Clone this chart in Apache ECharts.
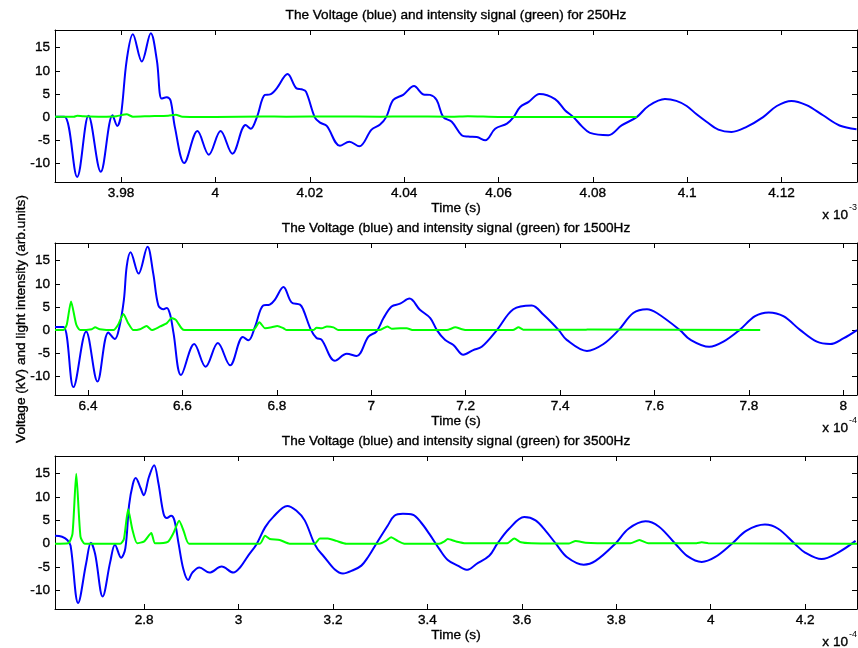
<!DOCTYPE html>
<html>
<head>
<meta charset="utf-8">
<script src="https://cdn.jsdelivr.net/npm/echarts@6/dist/echarts.min.js"></script>
<style>
  html, body { margin: 0; padding: 0; background: #fff; }
  #chart { width: 858px; height: 648px; }
</style>
</head>
<body>
<div id="chart"></div>
<script>
// ---- 250 Hz (time in units of 1e-3 s) ----
const time250V = [3.966, 3.968, 3.9707, 3.9731, 3.9757, 3.9782, 3.9792, 3.9800, 3.9812, 3.9825, 3.9844, 3.9863, 3.9876, 3.9886, 3.9897, 3.9905, 3.9914, 3.9934, 3.9962, 3.9986, 4.0011, 4.0036, 4.0064, 4.0075, 4.0088, 4.0105, 4.0116, 4.0130, 4.0153, 4.0172, 4.0183, 4.0192, 4.0211, 4.0222, 4.0236, 4.0264, 4.0284, 4.0305, 4.0331, 4.0349, 4.0362, 4.0377, 4.0398, 4.0421, 4.0441, 4.0455, 4.0469, 4.0483, 4.0501, 4.0522, 4.0536, 4.0554, 4.0572, 4.0593, 4.0618, 4.0632, 4.0646, 4.0664, 4.0687, 4.0720, 4.0741, 4.0759, 4.0777, 4.0794, 4.0833, 4.0861, 4.0893, 4.0918, 4.0953, 4.0977, 4.0999, 4.1020, 4.1041, 4.1066, 4.1094, 4.1126, 4.1161, 4.1190, 4.1221, 4.1253, 4.1288, 4.1323, 4.1359];
const volt250 = [0.1, 0.1, -12.9, 0.3, -11.8, 0.4, -1.9, 0.5, 12.3, 17.9, 12.0, 18.1, 12.2, 4.0, 4.3, 3.6, -2.1, -9.9, -3.0, -8.1, -3.0, -7.9, -1.7, -2.5, 0, 4.8, 4.9, 6.2, 9.3, 6.2, 6.0, 5.5, -0.1, -1.2, -1.9, -6.2, -5.3, -6.3, -2.7, -1.6, 0, 3.7, 4.8, 6.7, 4.9, 4.8, 3.7, 0, -1.0, -3.9, -4.2, -4.3, -5.0, -2.5, -1.4, 0, 2.2, 3.3, 5.0, 3.9, 1.5, 0, -2.0, -3.4, -3.9, -1.8, 0, 2.4, 3.9, 3.5, 2.4, 0.6, -1.0, -2.7, -3.2, -2.1, 0, 2.4, 3.5, 2.6, 0.4, -1.8, -2.6];
const time250L = [3.966, 3.970, 3.9707, 3.972, 3.976, 3.979, 3.9812, 3.9825, 3.986, 3.990, 3.9916, 3.993, 4.000, 4.010, 4.015, 4.025, 4.035, 4.040, 4.050, 4.0535, 4.060, 4.0893];
const light250 = [0.1, 0.1, 0.3, 0.2, 0.1, 0.2, 0.6, 0.1, 0.2, 0.3, 0.5, 0.1, 0.05, 0.15, 0.1, 0.15, 0.1, 0.15, 0.1, 0.2, 0.05, 0.05];

// ---- 1500 Hz (time in units of 1e-4 s) ----
const time1500V = [6.330, 6.348, 6.369, 6.396, 6.420, 6.443, 6.457, 6.466, 6.476, 6.482, 6.490, 6.507, 6.526, 6.538, 6.549, 6.560, 6.567, 6.574, 6.581, 6.597, 6.625, 6.649, 6.675, 6.701, 6.728, 6.740, 6.754, 6.771, 6.785, 6.796, 6.814, 6.831, 6.849, 6.856, 6.872, 6.884, 6.895, 6.923, 6.948, 6.969, 6.994, 7.011, 7.026, 7.043, 7.061, 7.081, 7.103, 7.125, 7.139, 7.156, 7.174, 7.195, 7.216, 7.234, 7.266, 7.301, 7.340, 7.365, 7.397, 7.414, 7.457, 7.492, 7.524, 7.555, 7.584, 7.605, 7.654, 7.675, 7.716, 7.746, 7.780, 7.813, 7.842, 7.873, 7.909, 7.944, 7.972, 8.000, 8.029];
const volt1500 = [0.65, 0.65, -12.3, -0.3, -11.1, -0.5, -1.9, 0.5, 6.6, 13.8, 16.8, 12.2, 18.0, 12.3, 5.3, 4.5, 4.8, 3.3, -0.6, -9.7, -3.0, -7.9, -2.8, -7.6, -1.5, -2.2, 0.8, 5.3, 5.5, 6.6, 9.3, 6.0, 5.5, 4.4, 0.1, -1.7, -2.1, -6.6, -5.1, -5.6, -1.4, -0.3, 2.6, 5.1, 5.7, 6.8, 4.4, 2.6, 0, -2.1, -3.2, -5.3, -4.3, -3.6, 0, 4.5, 5.3, 3.3, 0, -2.1, -4.5, -3.0, 0, 3.7, 4.5, 3.7, 0, -2.0, -3.6, -2.5, 0, 3.0, 3.8, 3.0, 0, -2.5, -3.0, -1.8, 0];
const time1500L = [6.330, 6.348, 6.355, 6.364, 6.375, 6.383, 6.408, 6.415, 6.425, 6.454, 6.464, 6.475, 6.485, 6.496, 6.510, 6.524, 6.535, 6.553, 6.567, 6.577, 6.586, 6.598, 6.605, 6.750, 6.763, 6.775, 6.789, 6.801, 6.814, 6.821, 6.877, 6.884, 6.895, 6.906, 6.920, 6.930, 7.018, 7.034, 7.043, 7.061, 7.075, 7.089, 7.160, 7.178, 7.192, 7.203, 7.300, 7.312, 7.322, 7.455, 7.460, 7.824];
const light1500 = [0, 0, 1.2, 6.2, 1.2, 0, 0.2, 0.6, 0.2, 0, 1.2, 3.5, 1.5, 0, 0.2, 0.9, 0, 0.8, 1.5, 2.6, 2.2, 0.4, 0, 0, 1.7, 0.4, 0.6, 0.9, 0.4, 0, 0, 0.5, 0.4, 0.8, 0.6, 0, 0, 0.8, 0.3, 0.4, 0.4, 0, 0, 0.6, 0.2, 0, 0, 0.6, 0.1, 0.1, 0.15, 0];

// ---- 3500 Hz (time in units of 1e-4 s) ----
const time3500V = [2.611, 2.626, 2.637, 2.644, 2.660, 2.677, 2.687, 2.696, 2.712, 2.728, 2.738, 2.751, 2.760, 2.768, 2.776, 2.782, 2.792, 2.799, 2.810, 2.821, 2.830, 2.841, 2.848, 2.857, 2.864, 2.873, 2.883, 2.893, 2.902, 2.917, 2.938, 2.964, 2.989, 3.003, 3.020, 3.038, 3.056, 3.073, 3.103, 3.122, 3.140, 3.161, 3.175, 3.221, 3.242, 3.260, 3.274, 3.291, 3.316, 3.330, 3.348, 3.369, 3.386, 3.404, 3.425, 3.443, 3.464, 3.485, 3.503, 3.531, 3.548, 3.573, 3.605, 3.629, 3.650, 3.672, 3.696, 3.731, 3.756, 3.798, 3.826, 3.862, 3.890, 3.925, 3.950, 3.981, 4.009, 4.045, 4.076, 4.115, 4.143, 4.178, 4.200, 4.235, 4.270, 4.307];
const volt3500 = [1.7, 1.5, 0.8, -0.4, -12.7, -4.2, 0.2, -2.2, -11.3, -3.9, -0.2, -3.0, -1.0, 8.3, 12.8, 14.1, 12.0, 10.4, 14.3, 16.8, 13.0, 6.4, 5.5, 6.0, 5.0, -0.1, -5.5, -7.8, -6.2, -5.1, -6.2, -4.9, -6.2, -5.1, -2.6, -0.1, 3.5, 5.7, 8.1, 7.1, 5.0, -0.1, -2.1, -6.4, -5.7, -4.7, -2.9, -0.1, 3.9, 6.0, 6.4, 6.2, 4.6, 2.1, -1.1, -3.5, -4.7, -5.6, -4.4, -2.6, 0, 3.2, 5.7, 5.0, 2.8, 0, -2.9, -4.5, -3.7, 0, 3.2, 4.8, 3.7, 0, -2.6, -3.9, -2.9, 0, 2.8, 4.1, 3.2, 0, -1.9, -3.3, -1.9, 0.6];
const time3500L = [2.611, 2.639, 2.648, 2.656, 2.665, 2.674, 2.749, 2.757, 2.766, 2.775, 2.785, 2.800, 2.815, 2.823, 2.850, 2.862, 2.874, 2.884, 2.895, 3.045, 3.056, 3.066, 3.087, 3.108, 3.161, 3.172, 3.189, 3.207, 3.228, 3.298, 3.312, 3.323, 3.337, 3.351, 3.425, 3.436, 3.443, 3.460, 3.481, 3.569, 3.584, 3.598, 3.620, 3.700, 3.714, 3.735, 3.760, 3.830, 3.849, 3.868, 3.970, 3.981, 3.995, 4.310];
const light3500 = [0, 0.1, 2.1, 15.0, 1.5, 0, 0, 1.0, 7.4, 3.0, 0.1, 0.5, 2.3, 0.1, 0.4, 2.3, 4.9, 2.6, 0, 0, 1.7, 1.0, 0.8, 0, 0, 1.1, 1.1, 0.6, 0, 0, 0.6, 1.4, 0.6, 0, 0, 0.5, 1.0, 0.5, 0.1, 0.1, 1.1, 0.3, 0.1, 0.05, 0.6, 0.2, 0.1, 0.1, 0.8, 0.1, 0.1, 0.3, 0.1, 0];

// ---- axis ticks ----
const ticks250 = [3.98, 4, 4.02, 4.04, 4.06, 4.08, 4.1, 4.12];
const ticks1500 = [6.4, 6.6, 6.8, 7, 7.2, 7.4, 7.6, 7.8, 8];
const ticks3500 = [2.8, 3, 3.2, 3.4, 3.6, 3.8, 4, 4.2];
const yTicks = [-10, -5, 0, 5, 10, 15];

const titles = [
  'The Voltage (blue) and intensity signal (green) for 250Hz',
  'The Voltage (blue) and intensity signal (green) for 1500Hz',
  'The Voltage (blue) and intensity signal (green) for 3500Hz'
];
const exponents = ['-3', '-4', '-4'];
const yName = 'Voltage (kV) and light intensity (arb.units)';
const xName = 'Time (s)';

const FONT = '"Liberation Sans", Arial, sans-serif';
const FS = 13.6;
const INK = { textBorderColor: '#000', textBorderWidth: 0.35 };

const panels = [
  { top: 30,  height: 152, xMin: 3.966, xMax: 4.136, ticks: ticks250,  tv: time250V,  v: volt250,  tl: time250L,  l: light250 },
  { top: 243, height: 152, xMin: 6.330, xMax: 8.029, ticks: ticks1500, tv: time1500V, v: volt1500, tl: time1500L, l: light1500 },
  { top: 456, height: 153, xMin: 2.611, xMax: 4.310, ticks: ticks3500, tv: time3500V, v: volt3500, tl: time3500L, l: light3500 }
];
const Y_MIN = -14, Y_MAX = 18.8;
const LEFT = 55, WIDTH = 802;

const zip = (a, b) => a.map((x, i) => [x, b[i]]);
const fmt = v => String(+v.toFixed(3));

const grid = [], xAxis = [], yAxis = [], series = [], graphic = [];

panels.forEach((p, i) => {
  grid.push({ left: LEFT, top: p.top, width: WIDTH, height: p.height, show: false });

  const tickStyle = { show: true, inside: true, length: 5, lineStyle: { color: '#000', width: 1 } };
  const lineStyle = { show: true, onZero: false, lineStyle: { color: '#000', width: 1 } };
  const labelStyle = Object.assign({ color: '#000', fontSize: FS, fontFamily: FONT }, INK);

  // bottom and top x axes (top one only carries the inward ticks)
  xAxis.push({
    type: 'value', gridIndex: i, position: 'bottom', min: p.xMin, max: p.xMax,
    axisLine: lineStyle,
    axisTick: Object.assign({}, tickStyle, { customValues: p.ticks }),
    axisLabel: Object.assign({ customValues: p.ticks, formatter: fmt, margin: 4 }, labelStyle),
    splitLine: { show: false },
    name: xName, nameLocation: 'middle', nameGap: 18,
    nameTextStyle: labelStyle
  });
  xAxis.push({
    type: 'value', gridIndex: i, position: 'top', min: p.xMin, max: p.xMax,
    axisLine: lineStyle,
    axisTick: Object.assign({}, tickStyle, { customValues: p.ticks }),
    axisLabel: { show: false },
    splitLine: { show: false }
  });

  // left and right y axes
  const yLeft = {
    type: 'value', gridIndex: i, position: 'left', min: Y_MIN, max: Y_MAX,
    axisLine: lineStyle,
    axisTick: Object.assign({}, tickStyle, { customValues: yTicks }),
    axisLabel: Object.assign({ customValues: yTicks, margin: 5 }, labelStyle),
    splitLine: { show: false }
  };
  if (i === 1) {
    yLeft.name = yName;
    yLeft.nameLocation = 'middle';
    yLeft.nameGap = 27;
    yLeft.nameMoveOverlap = false;
    yLeft.nameTextStyle = labelStyle;
  }
  yAxis.push(yLeft);
  yAxis.push({
    type: 'value', gridIndex: i, position: 'right', min: Y_MIN, max: Y_MAX,
    axisLine: lineStyle,
    axisTick: Object.assign({}, tickStyle, { customValues: yTicks }),
    axisLabel: { show: false },
    splitLine: { show: false }
  });

  series.push({
    type: 'line', xAxisIndex: 2 * i, yAxisIndex: 2 * i,
    data: zip(p.tv, p.v), smooth: 0.35, showSymbol: false, symbol: 'none',
    lineStyle: { color: '#0000ff', width: 2 }, z: 2, silent: true
  });
  series.push({
    type: 'line', xAxisIndex: 2 * i, yAxisIndex: 2 * i,
    data: zip(p.tl, p.l), smooth: 0.2, showSymbol: false, symbol: 'none',
    lineStyle: { color: '#00ff00', width: 2 }, z: 3, silent: true
  });

  // panel title
  graphic.push({
    type: 'text', x: LEFT + WIDTH / 2, y: p.top - 15,
    style: { text: titles[i], align: 'center', verticalAlign: 'middle', fill: '#000', fontSize: FS, fontFamily: FONT, stroke: '#000', lineWidth: 0.35 }
  });
  // axis multiplier "x 10^n"
  const base = p.top + p.height;
  graphic.push({
    type: 'text', x: 848, y: base + 33,
    style: { text: 'x 10', align: 'right', verticalAlign: 'middle', fill: '#000', fontSize: FS, fontFamily: FONT, stroke: '#000', lineWidth: 0.35 }
  });
  graphic.push({
    type: 'text', x: 849, y: base + 26,
    style: { text: exponents[i], align: 'left', verticalAlign: 'middle', fill: '#000', fontSize: 9, fontFamily: FONT }
  });
});

const chart = echarts.init(document.getElementById('chart'), null, { renderer: 'canvas' });
chart.setOption({
  animation: false,
  backgroundColor: '#fff',
  grid, xAxis, yAxis, series, graphic
});
</script>
</body>
</html>
